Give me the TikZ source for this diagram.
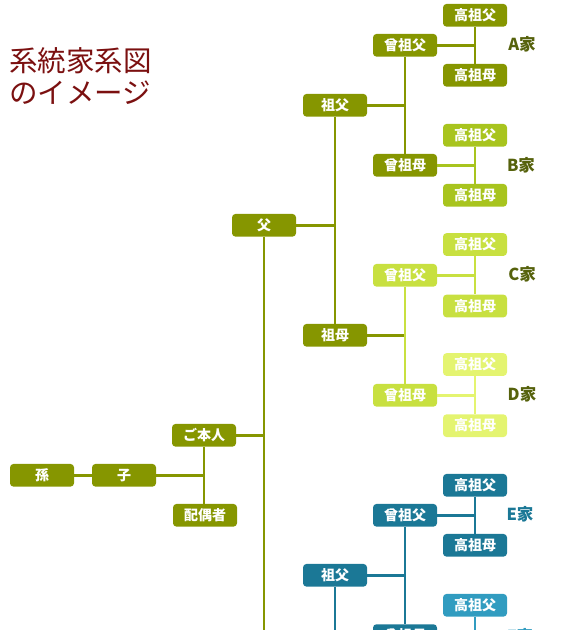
\documentclass[tikz,border=0pt]{standalone}
\usepackage{fontspec}
\newfontfamily\jp{Noto Sans CJK JP}
\definecolor{colA}{HTML}{869600}
\definecolor{colB}{HTML}{A8C41E}
\definecolor{colC}{HTML}{C8E040}
\definecolor{colD}{HTML}{E4F470}
\definecolor{colE}{HTML}{1B7896}
\definecolor{colF}{HTML}{319CC0}
\definecolor{lblOlive}{HTML}{56620C}
\definecolor{titleRed}{HTML}{7B1010}
\tikzset{
  box/.style={fill=#1, rounded corners=3.5pt, minimum width=64pt, minimum height=22.7pt,
    inner sep=0pt, text=white, font=\jp\bfseries\fontsize{14}{14}\selectfont},
  link/.style={draw=#1, line width=2.8pt},
  famlbl/.style={text=#1, inner sep=0pt, font=\jp\bfseries\fontsize{16.5}{16.5}\selectfont}
}
\begin{document}
\begin{tikzpicture}[x=1pt,y=-1pt]
\useasboundingbox (0,0) rectangle (570,630);
\clip (0,0) rectangle (570,630);
% title
\node[anchor=north west, inner sep=0pt, text=titleRed, align=left,
  font=\jp\fontsize{28.5}{32}\selectfont] (title) at (9,47) {系統家系図\\のイメージ};
% free ends
\coordinate (fatherEnd) at (264,660);
\coordinate (sf2End) at (335,660);
\coordinate (hFEnd) at (475,660);
% nodes
\node[box=colA] (hA1) at (475,15.3) {高祖父};
\node[box=colA] (gA) at (405,45.3) {曾祖父};
\node[box=colA] (hA2) at (475,75.3) {高祖母};
\node[box=colA] (sf1) at (335,105.3) {祖父};
\node[box=colB] (hB1) at (475,135.3) {高祖父};
\node[box=colA] (gB) at (405,165.3) {曾祖母};
\node[box=colB] (hB2) at (475,195.3) {高祖母};
\node[box=colA] (father) at (264,225.3) {父};
\node[box=colC] (hC1) at (475,244.5) {高祖父};
\node[box=colC] (gC) at (405,275.3) {曾祖父};
\node[box=colC] (hC2) at (475,306) {高祖母};
\node[box=colA] (sm) at (335,335.3) {祖母};
\node[box=colD] (hD1) at (475,364.5) {高祖父};
\node[box=colC] (gD) at (405,395.3) {曾祖母};
\node[box=colD] (hD2) at (475,425.7) {高祖母};
\node[box=colA] (me) at (204,435.3) {ご本人};
\node[box=colA] (child) at (124,475.3) {子};
\node[box=colA] (gc) at (42,475.3) {孫};
\node[box=colA] (spouse) at (205,515.3) {配偶者};
\node[box=colE] (hE1) at (475,485.3) {高祖父};
\node[box=colE] (gE) at (405,515.3) {曾祖父};
\node[box=colE] (hE2) at (475,545.3) {高祖母};
\node[box=colE] (sf2) at (335,575.3) {祖父};
\node[box=colF] (hF1) at (475,605.3) {高祖父};
\node[box=colE] (gF) at (405,635.6) {曾祖母};
% family labels
\node[famlbl=lblOlive] (lA) at (522,44) {A家};
\node[famlbl=lblOlive] (lB) at (521,165) {B家};
\node[famlbl=lblOlive] (lC) at (522,274) {C家};
\node[famlbl=lblOlive] (lD) at (522,394) {D家};
\node[famlbl=colE] (lE) at (520,514) {E家};
\node[famlbl=colF] (lF) at (520,636) {F家};
% connectors
\draw[link=colA] (gA.east) -- (gA.east -| hA1.south);
\draw[link=colA] (hA1.south) -- (hA2.north);
\draw[link=colB] (gB.east) -- (gB.east -| hB1.south);
\draw[link=colB] (hB1.south) -- (hB2.north);
\draw[link=colA] (sf1.east) -- (sf1.east -| gA.south);
\draw[link=colA] (gA.south) -- (gB.north);
\draw[link=colA] (father.east) -- (father.east -| sf1.south);
\draw[link=colA] (sf1.south) -- (sm.north);
\draw[link=colA] (sm.east) -- (sm.east -| gC.south);
\draw[link=colC] (gC.south) -- (gD.north);
\draw[link=colC] (gC.east) -- (gC.east -| hC1.south);
\draw[link=colC] (hC1.south) -- (hC2.north);
\draw[link=colD] (gD.east) -- (gD.east -| hD1.south);
\draw[link=colD] (hD1.south) -- (hD2.north);
\draw[link=colA] (father.south) -- (fatherEnd);
\draw[link=colA] (me.east) -- (me.east -| father.south);
\draw[link=colA] (me.south) -- (me.south |- spouse.north);
\draw[link=colA] (child.east) -- (child.east -| me.south);
\draw[link=colA] (gc.east) -- (child.west);
\draw[link=colE] (gE.east) -- (gE.east -| hE1.south);
\draw[link=colE] (hE1.south) -- (hE2.north);
\draw[link=colE] (sf2.east) -- (sf2.east -| gE.south);
\draw[link=colE] (gE.south) -- (gF.north);
\draw[link=colE] (sf2.south) -- (sf2End);
\draw[link=colF] (hF1.south) -- (hFEnd);
\end{tikzpicture}
\end{document}
